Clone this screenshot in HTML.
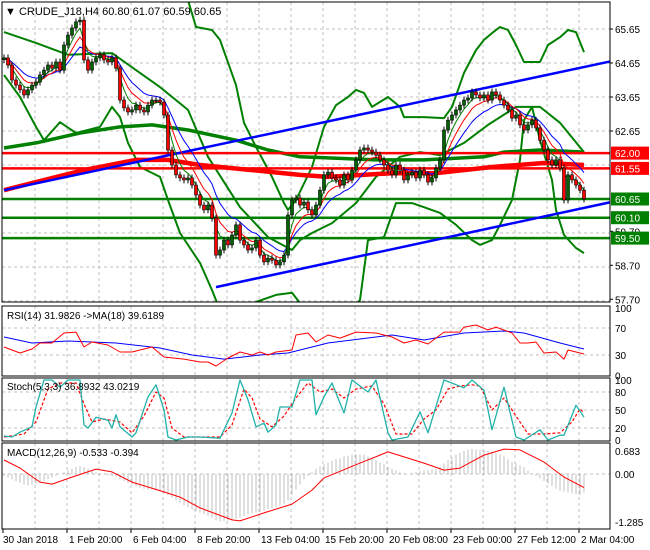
<!DOCTYPE html>
<html><head><meta charset="utf-8"><style>
html,body{margin:0;padding:0;background:#fff;}
svg{display:block;font-family:"Liberation Sans",sans-serif;}
</style></head><body>
<svg id="chart" width="650" height="550" viewBox="0 0 650 550">
<defs>
<clipPath id="cm"><rect x="2" y="2" width="608" height="300"/></clipPath>
<clipPath id="cr"><rect x="2" y="306" width="608" height="70"/></clipPath>
<clipPath id="cs"><rect x="2" y="378" width="608" height="63"/></clipPath>
<clipPath id="cd"><rect x="2" y="443" width="608" height="86"/></clipPath>
</defs>
<g id="grid"></g>
<g id="main" clip-path="url(#cm)"></g>
<g id="rsi" clip-path="url(#cr)"></g>
<g id="stoch" clip-path="url(#cs)"></g>
<g id="macd" clip-path="url(#cd)"></g>
<g id="frames">
<rect x="2" y="2" width="608" height="300" fill="none" stroke="#000"/>
<rect x="2" y="306" width="608" height="70" fill="none" stroke="#000"/>
<rect x="2" y="378" width="608" height="63" fill="none" stroke="#000"/>
<rect x="2" y="443" width="608" height="86" fill="none" stroke="#000"/>
</g>
<g id="axes"></g>
<text x="5" y="15" font-size="11">▼ CRUDE_J18,H4  60.80 61.07 60.59 60.65</text>
<text x="7" y="319" font-size="10">RSI(14) 31.9826  ->MA(18) 39.6189</text>
<text x="7" y="390" font-size="10">Stoch(5,3,3) 36.8932 43.0219</text>
<text x="7" y="456" font-size="10">MACD(12,26,9) -0.533 -0.394</text>
</svg>
<script>
const closes=[64.80,64.59,64.15,64.00,63.86,63.71,63.86,64.00,64.09,64.30,
64.44,64.59,64.50,64.68,64.44,65.18,65.47,65.68,65.86,65.91,
64.74,64.44,64.68,64.80,64.89,64.74,64.68,64.80,64.50,63.56,
63.33,63.21,63.27,63.41,63.27,63.21,63.41,63.56,63.56,63.50,
63.12,62.09,61.65,61.36,61.27,61.21,61.27,61.06,60.77,60.47,
60.33,60.47,60.09,59.00,59.15,59.44,59.30,59.59,59.89,59.44,
59.30,59.15,59.21,59.44,59.00,58.80,58.91,58.85,58.71,58.80,
59.00,60.18,60.62,60.68,60.47,60.56,60.33,60.18,60.47,60.91,
61.36,61.44,61.27,61.21,61.06,61.36,61.21,61.50,61.80,62.09,
62.15,62.09,62.03,61.94,61.80,61.65,61.50,61.36,61.65,61.50,
61.21,61.36,61.44,61.27,61.50,61.36,61.15,61.27,61.56,61.80,
62.68,62.97,63.12,63.27,63.41,63.56,63.62,63.80,63.71,63.62,
63.71,63.56,63.80,63.71,63.56,63.41,63.27,63.03,63.12,62.83,
62.68,62.83,62.97,62.74,62.38,62.09,61.80,61.65,61.80,61.56,
60.62,61.36,61.21,61.06,60.91,60.65];
const firstOpen=64.75;
const upperBand=[[44,67.2],[46,66.5],[48,65.71],[52,65.62],[54,65.33],[58,64.0],[60,62.89],[63,62.18],[67,61.3],[70,60.53],[71,60.33],[73,60.62],[77,61.59],[80,62.77],[83,63.41],[86,63.65],[88,63.86],[90,63.77],[92,63.36],[96,63.65],[99,63.36],[100,63.06],[105,63.06],[110,63.03],[112,63.36],[115,64.36],[118,65.03],[120,65.33],[122,65.53],[124,65.71],[126,65.62],[128,65.18],[130,64.68],[134,64.68],[136,65.18],[139,65.41],[141,65.62],[143,65.56],[145,64.97]];
const midBand=[[0,65.56],[8,65.24],[16,64.89],[27,64.94],[34,64.36],[39,63.94],[46,63.27],[51,61.89],[59,60.41],[66,59.53],[72,59.15],[74,59.44],[77,59.65],[82,59.94],[88,60.53],[93,61.3],[99,61.89],[104,62.03],[109,61.94],[115,62.3],[121,62.83],[128,63.36],[134,63.36],[139,62.89],[145,62.03]];
const lowBand=[[0,64.3],[4,63.65],[8,62.77],[10,62.38],[14,62.91],[18,62.59],[24,62.77],[27,63.36],[29,63.06],[31,62.3],[34,61.59],[39,61.3],[41,60.62],[44,59.65],[49,58.77],[52,57.97],[54,57.38],[58,57.09],[63,57.62],[68,57.83],[72,57.89],[74,57.59],[80,57.3],[87,57.38],[89,57.68],[91,59.44],[95,59.53],[98,60.53],[102,60.53],[105,60.41],[109,60.24],[113,59.89],[117,59.44],[119,59.3],[122,59.44],[124,59.89],[127,60.62],[129,61.8],[130,62.97],[132,63.36],[134,62.38],[137,61.21],[138,60.33],[140,59.59],[143,59.21],[145,59.06]];
const longGreen=[[0,62.15],[8,62.3],[19,62.59],[29,62.77],[37,62.83],[46,62.68],[58,62.38],[66,62.09],[74,61.89],[81,61.86],[93,61.8],[105,61.8],[120,61.89],[125,62.03],[134,62.09],[145,62.03]];
const longRed=[[0,60.91],[8,61.15],[20,61.5],[33,61.8],[41,61.8],[49,61.65],[62,61.5],[74,61.36],[81,61.3],[97,61.41],[108,61.41],[122,61.59],[135,61.71],[145,61.65]];
const redLevels=[62.00,61.55];
const greenLevels=[60.65,60.10,59.50];
const priceTicks=["65.65","64.65","63.65","62.65","59.70","58.70","57.70"];
const trendUpper=[[0,60.91],[151.75,64.70]];
const trendLower=[[53,58.06],[151.75,60.56]];
const rsiVals=[[0,41.8],[2,37.4],[4,33],[7,38.9],[9,47.8],[12,47.8],[15,62.6],[18,64],[20,41.8],[22,49.2],[26,44.8],[29,34.4],[32,34.4],[37,41.8],[40,27],[45,24],[49,19.6],[51,19.6],[53,13.7],[56,25.6],[59,34.4],[62,30],[64,34.4],[66,30],[68,34.4],[72,37.4],[73,59.6],[76,62.6],[78,49.2],[81,59.6],[84,55],[88,64],[93,62.6],[97,56.6],[100,47.8],[103,52.2],[106,46.3],[110,64],[114,64],[115,71.4],[118,74.4],[121,67],[123,71.4],[127,62.6],[129,47.8],[131,47.8],[133,49.2],[135,33],[138,34.4],[140,24],[141,37.4],[143,34.4],[145,31.5]];
const rsiMA=[[0,56.6],[7,47.8],[16,50.7],[28,47.8],[39,40.4],[47,30],[55,24],[64,30],[71,33],[81,47.8],[97,59.6],[105,52.2],[115,62.6],[125,65.5],[130,62.6],[139,47.8],[145,38.9]];
const rsiTicks=[100,70,30,0];
const stochK=[[0,6.7],[2,5],[4,13],[7,22],[8,55],[10,100],[12,100],[14,88],[16,100],[19,100],[20,25],[21,20],[23,38],[26,33],[27,20],[28,42],[29,22],[32,5],[33,12],[36,72],[38,92],[40,50],[41,5],[43,0],[46,5],[49,5],[54,3],[57,45],[59,100],[61,67],[63,22],[65,28],[66,13],[68,25],[69,55],[72,55],[74,100],[77,100],[78,42],[80,72],[82,95],[85,45],[87,100],[91,80],[93,100],[96,12],[97,0],[101,5],[104,47],[106,12],[110,100],[115,87],[117,100],[120,83],[122,17],[125,88],[128,5],[130,0],[134,17],[136,0],[139,8],[140,8],[143,58],[145,38]];
const stochD=[[0,5],[5,10],[8,30],[11,85],[14,95],[18,95],[20,60],[22,30],[25,35],[29,30],[32,12],[35,40],[38,80],[40,70],[42,20],[45,5],[54,5],[57,25],[60,85],[62,70],[64,35],[67,22],[70,40],[73,70],[76,95],[79,80],[82,85],[85,70],[88,85],[92,90],[95,60],[98,10],[102,10],[105,35],[108,50],[111,85],[114,90],[117,92],[119,90],[122,50],[125,70],[128,40],[131,10],[135,10],[139,12],[142,30],[144,52],[145,45]];
const stochTicks=[100,80,50,20,0];
const macdSignal=[[0,0.4],[4,0.17],[9,-0.23],[12,-0.29],[17,-0.09],[23,0.14],[27,0.06],[32,-0.23],[40,-0.51],[44,-0.66],[49,-0.97],[57,-1.31],[59,-1.34],[65,-1.11],[72,-0.86],[77,-0.46],[80,-0.11],[89,0.31],[96,0.63],[105,0.31],[110,0.11],[114,0.17],[120,0.54],[125,0.71],[129,0.69],[135,0.34],[140,-0.09],[145,-0.39]];
const macdHist=[-0.05,-0.1,-0.15,-0.2,-0.25,-0.3,-0.32,-0.3,-0.28,-0.25,
-0.2,-0.15,-0.1,-0.05,0,0.05,0.1,0.15,0.2,0.22,
0.2,0.15,0.1,0.05,0,-0.02,-0.05,-0.05,-0.08,-0.15,
-0.2,-0.25,-0.3,-0.35,-0.4,-0.42,-0.45,-0.45,-0.48,-0.5,
-0.55,-0.6,-0.68,-0.75,-0.82,-0.9,-0.95,-1.0,-1.05,-1.1,
-1.15,-1.2,-1.25,-1.32,-1.35,-1.35,-1.32,-1.3,-1.28,-1.25,
-1.2,-1.15,-1.12,-1.1,-1.08,-1.05,-1.0,-0.98,-0.95,-0.9,
-0.85,-0.75,-0.6,-0.45,-0.3,-0.15,-0.05,0.05,0.15,0.22,
0.28,0.33,0.38,0.42,0.45,0.5,0.52,0.55,0.56,0.56,
0.55,0.5,0.45,0.4,0.33,0.28,0.2,0.15,0.1,0.05,
0.02,0,0.03,0.05,0.08,0.1,0.1,0.12,0.15,0.2,
0.3,0.4,0.48,0.55,0.6,0.66,0.7,0.72,0.7,0.68,
0.68,0.66,0.64,0.6,0.55,0.5,0.42,0.35,0.3,0.25,
0.2,0.1,0.02,-0.05,-0.12,-0.2,-0.28,-0.35,-0.42,-0.48,
-0.5,-0.52,-0.55,-0.58,-0.6,-0.53];
const macdTicks=["0.683","0.00","-1.285"];
const dateLabels=["30 Jan 2018","1 Feb 20:00","6 Feb 04:00","8 Feb 20:00","13 Feb 04:00","15 Feb 20:00","20 Feb 08:00","23 Feb 00:00","27 Feb 12:00","2 Mar 04:00"];

const NS="http://www.w3.org/2000/svg";
const xI=i=>4+i*4;
const yP=p=>29+(65.65-p)*34;
const yR=v=>355-(v-30)*0.675;
const yS=v=>440-v*0.6;
const yM=v=>474-v*35;
function mk(tag,attrs,parent){const e=document.createElementNS(NS,tag);for(const k in attrs)e.setAttribute(k,attrs[k]);parent.appendChild(e);return e;}
function poly(pts,yf,parent,stroke,w,dash){
 const d=pts.map(p=>xI(p[0]).toFixed(1)+','+yf(p[1]).toFixed(1)).join(' ');
 const a={points:d,fill:'none',stroke:stroke,'stroke-width':w,'stroke-linejoin':'round'};
 if(dash)a['stroke-dasharray']=dash;
 return mk('polyline',a,parent);
}
const G=document.getElementById('grid'),M=document.getElementById('main'),R=document.getElementById('rsi'),S=document.getElementById('stoch'),D=document.getElementById('macd'),A=document.getElementById('axes');

// vertical grid
for(let k=1;k<19;k++){const x=3+32*k;
 [[2,302],[306,376],[378,441],[443,529]].forEach(r=>{const l=mk('line',{x1:x,x2:x,y1:r[0],y2:r[1],stroke:'#c0c0c0','stroke-dasharray':'3,3'},G);
 
 });}
// horizontal price grid
for(let k=0;k<9;k++){const y=29+34*k;const l=mk('line',{x1:2,x2:610,y1:y,y2:y,stroke:'#c0c0c0','stroke-dasharray':'3,3'},G);
 
 }
[70,30].forEach(v=>{const l=mk('line',{x1:2,x2:610,y1:yR(v),y2:yR(v),stroke:'#c0c0c0','stroke-dasharray':'3,3'},G);
 
 });
[80,50,20].forEach(v=>{const l=mk('line',{x1:2,x2:610,y1:yS(v),y2:yS(v),stroke:'#c0c0c0','stroke-dasharray':'3,3'},G);
 
 });
{const l=mk('line',{x1:2,x2:610,y1:yM(0),y2:yM(0),stroke:'#c0c0c0','stroke-dasharray':'3,3'},G);
 
 }

// bands & long MAs
[[upperBand,'upper-band'],[midBand,'middle-band'],[lowBand,'lower-band']].forEach(b=>{const p=poly(b[0],yP,M,'#008000',2);
 
 });
{const p=poly(longGreen,yP,M,'#008000',3.5);
 
 }
redLevels.forEach(v=>{const l=mk('line',{x1:2,x2:610,y1:yP(v),y2:yP(v),stroke:'#ff0000','stroke-width':2.5},M);
 
 });
greenLevels.forEach(v=>{const l=mk('line',{x1:2,x2:610,y1:yP(v),y2:yP(v),stroke:'#008000','stroke-width':2.5},M);
 
 });
{const p=poly(longRed,yP,M,'#ff0000',4.5);
 
 }
[[trendUpper,'upper-trendline'],[trendLower,'lower-trendline']].forEach(t=>{const p=poly(t[0],yP,M,'#0000ff',2.5);
 
 });

// thin EMAs from closes
function ema(n){let out=[],e=closes[0];closes.forEach((c,i)=>{e=e+(c-e)*2/(n+1);out.push([i,e]);});return out;}
[[ema(12),'#0000ff','ma-blue'],[ema(7),'#ff0000','ma-red'],[ema(4),'#008000','ma-green']].forEach(m=>{const p=poly(m[0],yP,M,m[1],1);
 
 });

// candles
closes.forEach((c,i)=>{const o=i?closes[i-1]:firstOpen;const x=xI(i);
 const hi=Math.max(o,c)+0.1,lo=Math.min(o,c)-0.1;
 const w=mk('line',{x1:x,x2:x,y1:yP(hi),y2:yP(lo),stroke:'#000'},M);
 
 
 const t=yP(Math.max(o,c)),h=Math.max(1,Math.abs(yP(o)-yP(c)));
 const r=mk('rect',{x:x-1.5,y:t,width:3,height:h,fill:c>=o?'#006400':'#ff0000',stroke:'#000','stroke-width':0.6},M);
 
 });

// RSI
{const p=poly(rsiMA,yR,R,'#0000ff',1);}
{const p=poly(rsiVals,yR,R,'#ff0000',1);}
// Stoch
{const p=poly(stochD,yS,S,'#ff0000',1.2,'3,2');}
{const p=poly(stochK,yS,S,'#20b2aa',1.3);}
// MACD
macdHist.forEach((v,i)=>{const l=mk('line',{x1:xI(i),x2:xI(i),y1:yM(0),y2:yM(v),stroke:'#c0c0c0','stroke-width':1},D);
 
 });
{const p=poly(macdSignal,yM,D,'#ff0000',1);}

// axes labels
function txt(x,y,s,parent,name,fill,anchor){const t=mk('text',{x:x,y:y,'font-size':10,fill:fill||'#000'},parent);if(anchor)t.setAttribute('text-anchor',anchor);t.textContent=s;
 
 return t;}
priceTicks.forEach(s=>{const y=yP(parseFloat(s));mk('line',{x1:610,x2:613,y1:y,y2:y,stroke:'#000'},A);txt(615,y+4,s,A,'price-tick');});
function box(v,col,name){const y=yP(v);const r=mk('rect',{x:611,y:y-6.5,width:38,height:13,fill:col},A);
 
 
 txt(615,y+4,v.toFixed(2),A,name+'-text','#fff');}
redLevels.forEach(v=>box(v,'#ff0000','resistance-label'));
greenLevels.forEach(v=>box(v,'#008000','support-label'));
rsiTicks.forEach(v=>txt(615,yR(v)+4,String(v),A,'rsi-tick'));
stochTicks.forEach(v=>txt(615,yS(v)+4,String(v),A,'stoch-tick'));
txt(615,455,macdTicks[0],A,'macd-tick');txt(615,yM(0)+4,macdTicks[1],A,'macd-tick');txt(615,526,macdTicks[2],A,'macd-tick');
dateLabels.forEach((s,k)=>{const x=3+64*k;mk('line',{x1:x,x2:x,y1:529,y2:533,stroke:'#000'},A);txt(x+(k?2:0),543,s,A,'date-label');});
</script>
</body></html>
